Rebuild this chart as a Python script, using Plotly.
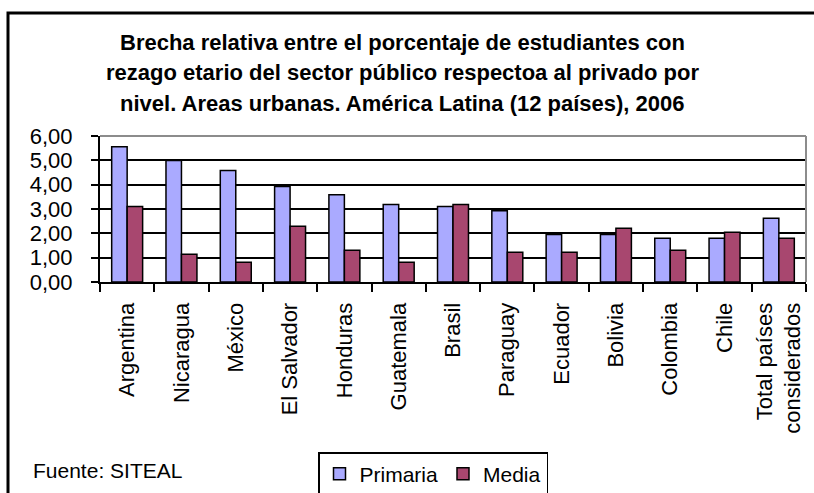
import plotly.graph_objects as go

categories = ["Argentina", "Nicaragua", "México", "El Salvador", "Honduras", "Guatemala",
              "Brasil", "Paraguay", "Ecuador", "Bolivia", "Colombia", "Chile",
              "Total países<br>considerados"]
primaria = [5.56, 4.99, 4.58, 3.92, 3.59, 3.18, 3.10, 2.93, 1.95, 1.95, 1.80, 1.80, 2.62]
media = [3.10, 1.14, 0.81, 2.29, 1.30, 0.81, 3.18, 1.22, 1.22, 2.21, 1.30, 2.04, 1.80]
y_ticks = [0, 1, 2, 3, 4, 5, 6]

title_lines = ["Brecha relativa entre el porcentaje de estudiantes con",
               "rezago etario del sector público respectoa al privado por",
               "nivel. Areas urbanas. América Latina (12 países), 2006"]

W, H = 814, 493
L, R, T, B = 100, 8, 136, 211
pw, ph = W - L - R, H - T - B

def px_x(p):
    return (p - L) / pw

def px_y(p):
    return (H - B - p) / ph

FONT = "Liberation Sans, Arial, sans-serif"

fig = go.Figure()
fig.add_trace(go.Bar(x=categories, y=primaria, name="Primaria",
                     marker=dict(color="#aaaaff", line=dict(color="black", width=1.5))))
fig.add_trace(go.Bar(x=categories, y=media, name="Media",
                     marker=dict(color="#a8476f", line=dict(color="black", width=1.5))))

annotations = []
for i, line in enumerate(title_lines):
    annotations.append(dict(text="<b>" + line + "</b>", xref="paper", yref="paper",
                            x=px_x(402), y=px_y(42 + 30.5 * i), xanchor="center",
                            yanchor="middle", showarrow=False,
                            font=dict(family=FONT, size=22, color="black")))
annotations.append(dict(text="Fuente: SITEAL", xref="paper", yref="paper", x=px_x(31),
                        y=px_y(470), xanchor="left", yanchor="middle", showarrow=False,
                        font=dict(family=FONT, size=21, color="black")))

fig.update_layout(
    width=W, height=H,
    margin=dict(l=L, r=R, t=T, b=B, pad=0, autoexpand=False),
    paper_bgcolor="white", plot_bgcolor="white",
    separators=",.",
    barmode="group", bargap=0.43, bargroupgap=0,
    font=dict(family=FONT, color="black", size=20),
    showlegend=True,
    legend=dict(orientation="h", xref="container", yref="container",
                x=318 / W, xanchor="left", y=1 - 452 / H, yanchor="top",
                bordercolor="black", borderwidth=1.5, bgcolor="white",
                font=dict(family=FONT, size=21, color="black"),
                itemwidth=30, tracegroupgap=0),
    xaxis=dict(type="category", showline=True, linecolor="black", linewidth=2, automargin=False,
               ticks="outside", tickson="boundaries", ticklen=8, tickwidth=2, tickcolor="black",
               tickangle=-90, ticklabelstandoff=10,
               tickfont=dict(family=FONT, size=22, color="black"),
               showgrid=False, range=[-0.5, len(categories) - 0.5]),
    yaxis=dict(range=[0, 6], tickvals=y_ticks, tickformat=".2f", showline=True, automargin=False,
               linecolor="black", linewidth=2, ticks="outside", ticklen=7, tickwidth=2,
               tickcolor="black", showgrid=True, gridcolor="black", gridwidth=1.5,
               zeroline=False, ticklabelstandoff=14,
               tickfont=dict(family=FONT, size=22, color="black")),
    shapes=[
        dict(type="line", xref="paper", yref="paper", x0=0, x1=1, y0=1, y1=1,
             line=dict(color="#8c8c8c", width=2), layer="above"),
        dict(type="line", xref="paper", yref="paper", x0=1, x1=1, y0=0, y1=1,
             line=dict(color="#8c8c8c", width=2), layer="above"),
        dict(type="rect", xref="paper", yref="paper", x0=px_x(8), x1=px_x(W + 20),
             y0=px_y(13), y1=px_y(H + 20), line=dict(color="black", width=3), layer="above"),
    ],
    annotations=annotations,
)

fig.write_html("out.html", config={"displayModeBar": False},
               post_script="document.body.style.margin='0';document.body.style.padding='0';")
